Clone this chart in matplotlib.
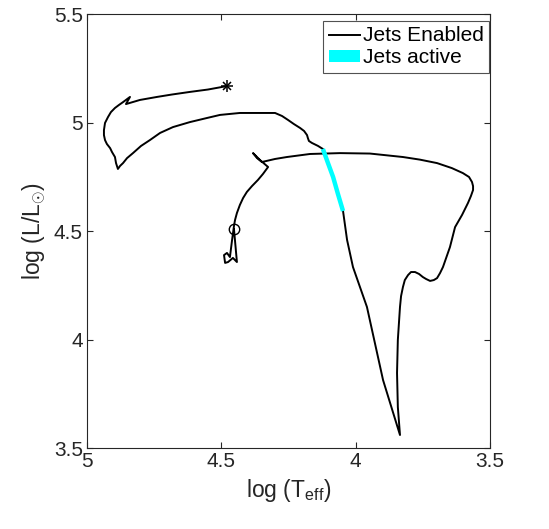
import matplotlib
matplotlib.use("Agg")
import matplotlib.pyplot as plt
from matplotlib.lines import Line2D
from matplotlib.patches import Patch

plt.rcParams['font.family'] = ['Liberation Sans', 'DejaVu Sans']
plt.rcParams['mathtext.fontset'] = 'custom'
plt.rcParams['mathtext.rm'] = 'Liberation Sans'
plt.rcParams['mathtext.it'] = 'Liberation Sans:italic'

# Track: log Teff, log L (jets-enabled model)
track_logT = [4.453, 4.442, 4.457, 4.475, 4.486, 4.490, 4.479, 4.468, 4.460, 4.453,
              4.449, 4.442, 4.431, 4.419, 4.405, 4.386, 4.364, 4.345, 4.326, 4.356,
              4.382, 4.367, 4.349, 4.300, 4.256, 4.170, 4.058, 3.947, 3.824, 3.761,
              3.697, 3.642, 3.601, 3.578, 3.567, 3.563, 3.563, 3.571, 3.582, 3.604,
              3.630, 3.649, 3.675, 3.686, 3.697, 3.709, 3.723, 3.738, 3.750, 3.764,
              3.779, 3.794, 3.805, 3.817, 3.824, 3.831, 3.835, 3.843, 3.846, 3.843,
              3.835, 3.898, 3.958, 4.010, 4.032, 4.047, 4.066, 4.084, 4.103, 4.122,
              4.140, 4.163, 4.174, 4.178, 4.181, 4.192, 4.207, 4.230, 4.252, 4.274,
              4.300, 4.431, 4.505, 4.553, 4.617, 4.680, 4.728, 4.766, 4.799, 4.829,
              4.851, 4.866, 4.877, 4.885, 4.892, 4.896, 4.907, 4.914, 4.926, 4.933,
              4.937, 4.937, 4.933, 4.922, 4.911, 4.896, 4.881, 4.866, 4.840, 4.855,
              4.803, 4.739, 4.684, 4.617, 4.550, 4.479]
track_logL = [4.509, 4.357, 4.376, 4.357, 4.353, 4.389, 4.399, 4.380, 4.459, 4.523,
              4.551, 4.583, 4.620, 4.652, 4.680, 4.707, 4.735, 4.763, 4.795, 4.827,
              4.859, 4.836, 4.818, 4.832, 4.841, 4.855, 4.859, 4.857, 4.841, 4.829,
              4.813, 4.790, 4.767, 4.749, 4.726, 4.707, 4.689, 4.661, 4.629, 4.574,
              4.518, 4.426, 4.334, 4.306, 4.283, 4.274, 4.270, 4.279, 4.288, 4.302,
              4.311, 4.311, 4.297, 4.274, 4.242, 4.200, 4.150, 3.998, 3.846, 3.689,
              3.560, 3.813, 4.150, 4.334, 4.459, 4.592, 4.671, 4.749, 4.813, 4.878,
              4.892, 4.906, 4.915, 4.929, 4.942, 4.961, 4.975, 4.993, 5.012, 5.030,
              5.044, 5.044, 5.035, 5.021, 5.002, 4.979, 4.952, 4.919, 4.892, 4.859,
              4.836, 4.813, 4.800, 4.786, 4.813, 4.841, 4.864, 4.882, 4.901, 4.919,
              4.942, 4.965, 4.998, 5.025, 5.048, 5.067, 5.081, 5.094, 5.118, 5.085,
              5.104, 5.118, 5.129, 5.141, 5.152, 5.168]

# Jets-active phase
jet_logT = [4.047, 4.066, 4.084, 4.103, 4.122]
jet_logL = [4.592, 4.671, 4.749, 4.813, 4.878]

xticks = [5, 4.5, 4, 3.5]
xticklabels = ['5', '4.5', '4', '3.5']
yticks = [3.5, 4, 4.5, 5, 5.5]
yticklabels = ['3.5', '4', '4.5', '5', '5.5']
legend_labels = ['Jets Enabled', 'Jets active']

fig = plt.figure(figsize=(5.49, 5.29), dpi=100)
ax = fig.add_axes([0.1585, 0.1531, 0.7340, 0.8204])

dark = '#262626'
ax.plot(track_logT, track_logL, color='black', lw=1.4, zorder=2,
        solid_joinstyle='round', solid_capstyle='round')
ax.plot(jet_logT, jet_logL, color='cyan', lw=3.2, zorder=3, solid_capstyle='butt')
ax.plot(track_logT[0], track_logL[0], marker='o', mfc='none', mec='black', ms=7.5, mew=1.0, zorder=4)
ax.plot(track_logT[-1], track_logL[-1], marker='+', color='black', ms=8, mew=1.1, zorder=4)
ax.plot(track_logT[-1], track_logL[-1], marker='x', color='black', ms=6, mew=1.1, zorder=4)

ax.set_xlim(5, 3.5)
ax.set_ylim(3.5, 5.5)
ax.set_xticks(xticks)
ax.set_xticklabels(xticklabels)
ax.set_yticks(yticks)
ax.set_yticklabels(yticklabels)
ax.tick_params(direction='in', length=4, width=0.8, top=True, right=True,
               labelsize=15, colors=dark, pad=3)
for s in ax.spines.values():
    s.set_color(dark)
    s.set_linewidth(0.8)

ax.set_xlabel(r'log (T$_{\mathrm{eff}}$)', fontsize=16.5, color=dark, labelpad=4)
ax.set_ylabel(r'log (L/L$_{\odot}$)', fontsize=16.5, color=dark, labelpad=4)

handles = [Line2D([], [], color='black', lw=1.4), Patch(facecolor='cyan', edgecolor='none')]
leg = ax.legend(handles, legend_labels, loc='upper right', bbox_to_anchor=(0.9975, 0.9839),
                borderaxespad=0, fontsize=15, frameon=True, fancybox=False,
                handlelength=1.5, handleheight=0.5, handletextpad=0.15, borderpad=0.25,
                labelspacing=0.15)
leg.get_frame().set_edgecolor(dark)
leg.get_frame().set_linewidth(0.8)

fig.savefig('out.png', dpi=100)
